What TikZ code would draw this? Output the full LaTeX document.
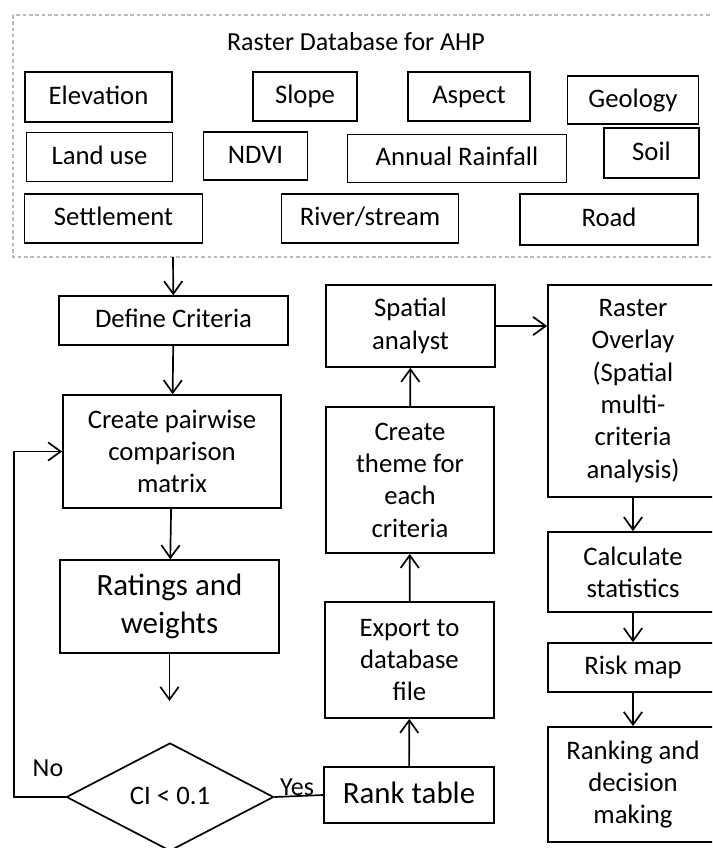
\documentclass[tikz,border=0pt]{standalone}
\usepackage{fontspec}
\setmainfont{Carlito}
\usetikzlibrary{arrows.meta,shapes.geometric}
\tikzset{
  box/.style={draw, line width=1.2pt, align=center, inner sep=0pt,
    font=\fontsize{19pt}{23pt}\selectfont},
  one/.style={text height=14.5pt, text depth=4.5pt},
  bigone/.style={text height=17pt, text depth=5.2pt},
  bigbox/.style={box, font=\fontsize{22pt}{26.5pt}\selectfont},
  arr/.style={line width=1.2pt, -{Straight Barb[length=9pt,width=13pt,line width=1.2pt]}},
  lbl/.style={font=\fontsize{18.5pt}{22pt}\selectfont}
}
\begin{document}
\begin{tikzpicture}[x=0.025cm,y=-0.025cm]
\useasboundingbox (0,0) rectangle (712,848);
\clip (0,0) rectangle (712,848);
% raster database (dotted frame, runs off the right edge)
\draw[gray!55, line width=1.6pt, dash pattern=on 2.5pt off 2pt] (13,15) rectangle (730,257);
\node[lbl, one] (title) at (356,43) {Raster Database for AHP};
\coordinate (dbbot) at (173,257);
% first row of layers
\node[box, one, minimum width=3.68cm, minimum height=1.25cm] (elev) at (98.5,97) {Elevation};
\node[box, one, minimum width=2.6cm, minimum height=1.22cm] (slope) at (305,96.5) {Slope};
\node[box, one, minimum width=3.05cm, minimum height=1.22cm] (aspect) at (469,96.5) {Aspect};
\node[box, one, minimum width=3.28cm, minimum height=1.2cm] (geology) at (633,100) {Geology};
% second row
\node[box, one, minimum width=3.65cm, minimum height=1.22cm] (landuse) at (99.5,157) {Land use};
\node[box, one, minimum width=2.6cm, minimum height=1.2cm] (ndvi) at (255.5,156) {NDVI};
\node[box, one, minimum width=5.48cm, minimum height=1.2cm] (rain) at (457,158.5) {Annual Rainfall};
\node[box, one, minimum width=2.38cm, minimum height=1.25cm] (soil) at (651.5,153) {Soil};
% third row
\node[box, one, minimum width=4.45cm, minimum height=1.22cm] (settle) at (113.5,218.5) {Settlement};
\node[box, one, minimum width=4.42cm, minimum height=1.22cm] (river) at (370,218.5) {River/stream};
\node[box, one, minimum width=4.45cm, minimum height=1.28cm] (road) at (609,219.5) {Road};
% AHP column
\node[box, one, minimum width=5.72cm, minimum height=1.22cm] (def) at (173.5,320.5) {Define Criteria};
\node[box, minimum width=5.45cm, minimum height=2.82cm] (pair) at (172,451.5) {Create pairwise\\comparison\\matrix};
\node[bigbox, minimum width=5.48cm, minimum height=2.32cm] (rate) at (169.5,606.5) {Ratings and\\weights};
\coordinate (rateend) at (169.5,701);
\node[draw, diamond, one, line width=1.2pt, inner sep=0pt, minimum width=5.18cm, minimum height=2.7cm,
  font=\fontsize{19pt}{23pt}\selectfont] (ci) at (170,797) {CI < 0.1};
\coordinate (back) at (14,797);
% theme column
\node[bigbox, bigone, minimum width=4.25cm, minimum height=1.4cm] (rank) at (409,795) {Rank table};
\node[box, minimum width=4.22cm, minimum height=2.9cm] (export) at (409.5,660) {Export to\\database\\file};
\node[box, minimum width=4.2cm, minimum height=3.65cm] (theme) at (410,480) {Create\\theme for\\each\\criteria};
\node[box, minimum width=4.22cm, minimum height=2.05cm] (spat) at (410.5,326) {Spatial\\analyst};
% overlay column
\node[box, minimum width=4.25cm, minimum height=5.3cm] (overlay) at (633,391) {Raster\\Overlay\\(Spatial\\multi-\\criteria\\analysis)};
\node[box, minimum width=4.25cm, minimum height=2.0cm] (calc) at (633,572) {Calculate\\statistics};
\node[box, one, minimum width=4.25cm, minimum height=1.22cm] (risk) at (633,667.5) {Risk map};
\node[box, minimum width=4.25cm, minimum height=2.88cm] (rankdec) at (633,784.5) {Ranking and\\decision\\making};
% connectors
\draw[arr] (dbbot) -- (def);
\draw[arr] (def) -- (pair);
\draw[arr] (pair) -- (rate);
\draw[arr] (rate) -- (rateend);
\draw[arr] (ci.west) -- (back) |- (pair.west);
\node[lbl] (no) at (48,768) {No};
\draw[line width=1.2pt] (ci.east) -- (rank.west);
\node[lbl] (yes) at (297,787) {Yes};
\draw[arr] (rank) -- (export);
\draw[arr, {Straight Barb[length=9pt,width=13pt,line width=1.2pt]}-] (theme) -- (export);
\draw[arr] (theme) -- (spat);
\draw[arr] (spat.east) -- (spat.east -| overlay.west);
\draw[arr] (overlay) -- (calc);
\draw[arr] (calc) -- (risk);
\draw[arr] (risk) -- (rankdec);
\end{tikzpicture}
\end{document}
